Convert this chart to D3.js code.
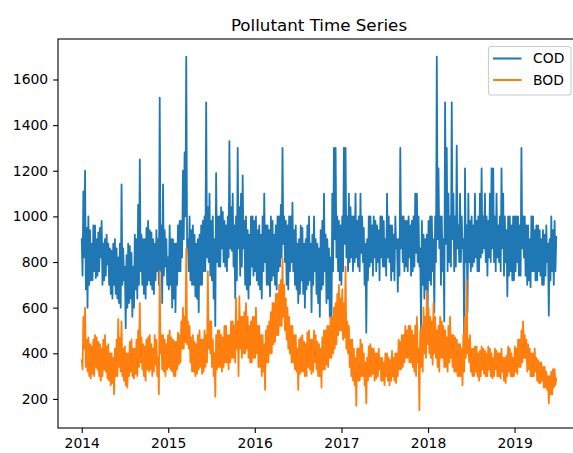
<!DOCTYPE html>
<html>
<head>
<meta charset="utf-8">
<script src="https://cdn.jsdelivr.net/npm/d3@7/dist/d3.min.js"></script>
<style>
  html, body { margin: 0; padding: 0; background: #fff; }
  svg { display: block; font-family: "DejaVu Sans", sans-serif; }
</style>
</head>
<body>
<svg id="chart" width="573" height="453"></svg>
<script>
// Samples every 3.5 days (84 h) starting 2014-01-01
const startDate = new Date(2014, 0, 1);
const stepHours = 84;

const codValues = [
  // 2014
  900, 740, 1110, 820, 1200, 680, 950, 600, 1000, 700, 940, 720, 880, 720, 960, 760,
  960, 730, 900, 740, 930, 760, 950, 820, 980, 700, 880, 720, 900, 740, 920, 790,
  880, 700, 860, 660, 850, 640, 880, 700, 900, 660, 860, 640, 820, 620, 880, 600,
  1140, 700, 860, 720, 780, 510, 830, 600, 880, 620, 870, 640, 840, 560, 780, 600,
  920, 680, 900, 640, 1050, 700, 1250, 760, 920, 700, 900, 660, 900, 640, 950, 700,
  980, 720, 940, 700, 930, 680, 900, 660, 880, 720, 940, 760, 900, 700, 1520, 760,
  960, 620, 1140, 740, 940, 780, 900, 700,
  // 2015
  820, 680, 960, 700, 900, 600, 900, 640, 880, 580, 880, 700, 960, 760, 980, 760,
  980, 820, 1200, 900, 1280, 1000, 1700, 860, 900, 760, 1000, 720, 940, 700, 960, 700,
  920, 650, 880, 640, 900, 580, 920, 700, 960, 700, 980, 760, 1000, 760, 1500, 820,
  1040, 800, 1100, 740, 980, 720, 1000, 640, 900, 520, 1190, 800, 1000, 780, 1000, 780,
  1040, 860, 1020, 800, 980, 780, 960, 760, 1000, 820, 1330, 860, 1040, 850, 1100, 780,
  960, 640, 1000, 720, 1300, 860, 1040, 740, 1100, 780, 1180, 860, 980, 700, 1000, 680,
  940, 640, 920, 700, 1000, 780, 1000, 740,
  // 2016
  980, 760, 1000, 720, 940, 700, 960, 680, 920, 640, 1000, 760, 1100, 800, 960, 700,
  960, 700, 940, 650, 1000, 720, 980, 740, 920, 700, 960, 680, 1000, 760, 1000, 780,
  1050, 820, 1300, 880, 1000, 800, 980, 700, 960, 680, 1000, 760, 1000, 800, 1060, 760,
  940, 700, 960, 680, 880, 620, 900, 660, 960, 720, 950, 660, 880, 600, 900, 680,
  960, 700, 1000, 720, 880, 580, 920, 700, 1000, 760, 900, 660, 880, 620, 860, 560,
  940, 680, 980, 700, 1100, 760, 920, 620, 900, 640, 860, 560, 820, 480, 1100, 760,
  1300, 900, 1300, 820, 1000, 760, 980, 720,
  // 2017
  960, 700, 1000, 760, 1300, 880, 1300, 820, 1000, 760, 1100, 800, 1040, 820, 1000, 760,
  1000, 800, 1100, 820, 980, 780, 1000, 760, 1100, 840, 1000, 800, 950, 700, 880, 490,
  900, 720, 1000, 780, 1000, 800, 960, 740, 1000, 820, 980, 760, 960, 800, 940, 720,
  1000, 820, 1000, 780, 980, 780, 900, 740, 1100, 820, 1000, 800, 960, 720, 960, 760,
  920, 720, 1000, 860, 900, 670, 900, 740, 1300, 860, 1000, 800, 1000, 760, 980, 780,
  980, 760, 1000, 820, 960, 740, 980, 760, 1000, 780, 1100, 840, 1100, 800, 1000, 780,
  860, 490, 980, 700, 920, 640, 900, 680,
  // 2018
  920, 600, 980, 720, 1000, 700, 1000, 760, 900, 580, 1000, 800, 1700, 900, 1210, 860,
  1000, 700, 1000, 760, 900, 540, 1500, 880, 1300, 760, 1100, 800, 1000, 780, 1500, 900,
  1100, 760, 1000, 780, 1310, 860, 960, 800, 1100, 800, 1000, 860, 900, 470, 1210, 800,
  960, 580, 1100, 800, 980, 760, 1000, 780, 960, 800, 1100, 820, 980, 760, 1000, 760,
  1100, 820, 1210, 840, 1000, 860, 1100, 800, 1000, 740, 980, 820, 1100, 800, 1210, 860,
  1210, 800, 1000, 760, 1100, 820, 960, 800, 1000, 760, 1210, 860, 1100, 740, 1000, 800,
  940, 650, 1000, 740, 1000, 760, 960, 720,
  // 2019
  1000, 720, 1000, 760, 1000, 800, 1000, 740, 960, 740, 1300, 860, 1000, 820, 1000, 740,
  960, 700, 960, 720, 900, 690, 1000, 760, 1000, 760, 940, 720, 960, 720, 960, 760,
  940, 740, 900, 700, 940, 700, 920, 740, 960, 800, 880, 565, 900, 720, 1000, 760,
  940, 700, 980, 760, 910
];

const bodValues = [
  // 2014
  370, 330, 560, 420, 600, 340, 460, 320, 470, 300, 440, 290, 430, 310, 460, 300,
  480, 340, 470, 330, 450, 300, 440, 280, 420, 300, 460, 330, 480, 320, 430, 290,
  440, 280, 400, 260, 400, 270, 380, 220, 420, 300, 460, 300, 550, 340, 470, 320,
  540, 300, 420, 280, 430, 260, 400, 250, 400, 300, 450, 320, 460, 300, 420, 290,
  420, 310, 460, 300, 500, 340, 620, 360, 470, 330, 440, 300, 430, 280, 460, 330,
  470, 320, 480, 330, 440, 300, 420, 320, 480, 350, 460, 300, 380, 220, 760, 400,
  480, 330, 480, 320, 460, 300, 440, 330,
  // 2015
  480, 340, 500, 330, 470, 320, 460, 300, 450, 300, 450, 330, 490, 350, 480, 360,
  540, 420, 600, 420, 560, 450, 860, 440, 540, 420, 520, 360, 470, 320, 480, 320,
  450, 300, 440, 310, 480, 330, 500, 340, 460, 310, 460, 320, 500, 340, 480, 360,
  760, 420, 540, 400, 540, 340, 460, 300, 400, 210, 480, 330, 500, 340, 500, 340,
  480, 320, 470, 340, 520, 360, 520, 360, 480, 330, 480, 360, 540, 380, 540, 380,
  520, 360, 640, 420, 540, 300, 650, 420, 560, 380, 560, 400, 580, 400, 620, 420,
  560, 380, 520, 360, 540, 360, 560, 380,
  // 2016
  560, 380, 600, 400, 520, 340, 520, 340, 480, 300, 480, 320, 440, 240, 500, 360,
  520, 360, 540, 400, 580, 400, 620, 440, 620, 450, 660, 480, 660, 480, 700, 520,
  720, 520, 815, 560, 700, 500, 640, 460, 600, 420, 560, 400, 520, 360, 520, 360,
  480, 330, 480, 320, 420, 240, 460, 310, 470, 320, 480, 320, 450, 300, 440, 300,
  490, 340, 500, 330, 460, 310, 460, 320, 500, 360, 480, 330, 450, 300, 440, 300,
  420, 250, 470, 330, 500, 330, 500, 350, 520, 340, 520, 380, 560, 380, 560, 400,
  600, 420, 620, 440, 660, 480, 700, 500,
  // 2017
  640, 500, 680, 460, 620, 470, 780, 420, 540, 400, 520, 340, 460, 300, 460, 280,
  420, 260, 380, 170, 420, 280, 420, 280, 460, 300, 440, 300, 400, 260, 360, 180,
  380, 280, 430, 300, 440, 300, 420, 310, 420, 280, 400, 290, 400, 300, 420, 330,
  380, 280, 380, 280, 360, 260, 400, 300, 400, 280, 380, 260, 370, 280, 410, 300,
  380, 280, 400, 270, 400, 300, 460, 330, 450, 330, 480, 340, 480, 360, 520, 380,
  500, 380, 520, 360, 520, 360, 500, 340, 480, 320, 520, 300, 560, 360, 420, 150,
  500, 340, 520, 320, 600, 400, 560, 380,
  // 2018
  670, 440, 600, 400, 560, 380, 540, 350, 620, 400, 560, 380, 500, 340, 520, 320,
  560, 380, 540, 380, 520, 340, 500, 340, 470, 320, 520, 360, 560, 380, 480, 340,
  480, 320, 470, 320, 460, 300, 440, 300, 440, 300, 420, 260, 480, 320, 560, 380,
  720, 400, 460, 360, 480, 320, 420, 300, 420, 300, 430, 320, 430, 300, 400, 280,
  410, 300, 430, 330, 420, 310, 410, 300, 400, 300, 430, 330, 420, 300, 400, 290,
  380, 300, 420, 330, 410, 300, 400, 300, 400, 290, 420, 320, 380, 280, 380, 270,
  390, 300, 430, 320, 420, 300, 400, 300,
  // 2019
  380, 300, 430, 320, 420, 310, 460, 340, 460, 340, 500, 360, 540, 380, 480, 380,
  460, 320, 440, 330, 420, 300, 400, 300, 400, 300, 420, 320, 380, 280, 370, 270,
  360, 270, 360, 280, 340, 250, 340, 250, 320, 240, 300, 180, 300, 220, 320, 220,
  330, 250, 330, 260, 290
];

const seriesNames = ["COD", "BOD"];
const seriesColors = ["#1f77b4", "#ff7f0e"];
const yTickValues = [200, 400, 600, 800, 1000, 1200, 1400, 1600];
const chartTitle = "Pollutant Time Series";

const nPoints = Math.min(codValues.length, bodValues.length);
const dates = d3.range(nPoints).map(i => d3.timeHour.offset(startDate, i * stepHours));

const svg = d3.select("#chart");
const box = { left: 58, right: 580, top: 39, bottom: 428 };

// Axis limits padded by 5% of the data range on each side
const tExtent = d3.extent(dates);
const tPad = (tExtent[1] - tExtent[0]) * 0.05;
const x = d3.scaleTime()
  .domain([new Date(+tExtent[0] - tPad), new Date(+tExtent[1] + tPad)])
  .range([box.left, box.right]);

const allVals = codValues.concat(bodValues);
const vMin = d3.min(allVals), vMax = d3.max(allVals);
const vPad = (vMax - vMin) * 0.05;
const y = d3.scaleLinear()
  .domain([vMin - vPad, vMax + vPad])
  .range([box.bottom, box.top]);

// Lines
const line = d3.line()
  .x((d, i) => x(dates[i]))
  .y(d => y(d));

svg.append("defs").append("clipPath").attr("id", "plotClip")
  .append("rect").attr("x", box.left).attr("y", box.top)
  .attr("width", box.right - box.left).attr("height", box.bottom - box.top);

const plot = svg.append("g").attr("clip-path", "url(#plotClip)");
[codValues, bodValues].forEach((vals, k) => {
  plot.append("path")
    .datum(vals.slice(0, nPoints))
    .attr("fill", "none")
    .attr("stroke", seriesColors[k])
    .attr("stroke-width", 1.8)
    .attr("stroke-linejoin", "round")
    .attr("stroke-linecap", "square")
    .attr("d", line);
});

// Axes
const tickLen = 4.9, tickPad = 4.9;
const xAxis = d3.axisBottom(x)
  .ticks(d3.timeYear.every(1))
  .tickFormat(d3.timeFormat("%Y"))
  .tickSizeInner(tickLen).tickSizeOuter(0).tickPadding(tickPad);
const gx = svg.append("g").attr("transform", `translate(0,${box.bottom})`).call(xAxis);

const yAxis = d3.axisLeft(y)
  .tickValues(yTickValues)
  .tickFormat(d3.format("d"))
  .tickSizeInner(tickLen).tickSizeOuter(0).tickPadding(tickPad);
const gy = svg.append("g").attr("transform", `translate(${box.left},0)`).call(yAxis);

[gx, gy].forEach(g => {
  g.select(".domain").remove();
  g.selectAll(".tick line").attr("stroke", "#000").attr("stroke-width", 1.1);
  g.selectAll(".tick text").attr("fill", "#000")
    .style("font-size", "13.9px").style("font-family", "'DejaVu Sans', sans-serif");
});

// Spines
svg.append("rect")
  .attr("x", box.left).attr("y", box.top)
  .attr("width", box.right - box.left).attr("height", box.bottom - box.top)
  .attr("fill", "none").attr("stroke", "#000").attr("stroke-width", 1.1);

// Title
svg.append("text")
  .attr("x", (box.left + box.right) / 2).attr("y", box.top - 8.3)
  .attr("text-anchor", "middle")
  .style("font-size", "16.7px")
  .attr("fill", "#000")
  .text(chartTitle);

// Legend
const lg = svg.append("g");
lg.append("rect")
  .attr("x", 488.5).attr("y", 46.5)
  .attr("width", 82.5).attr("height", 48.5)
  .attr("rx", 2.8).attr("ry", 2.8)
  .attr("fill", "#fff").attr("fill-opacity", 0.8)
  .attr("stroke", "#cccccc").attr("stroke-width", 1.1);
seriesNames.forEach((name, k) => {
  const cy = 58.5 + k * 21.5;
  lg.append("line")
    .attr("x1", 493).attr("x2", 521.5)
    .attr("y1", cy).attr("y2", cy)
    .attr("stroke", seriesColors[k]).attr("stroke-width", 2);
  lg.append("text")
    .attr("x", 533).attr("y", cy)
    .attr("dy", "0.35em")
    .style("font-size", "13.9px")
    .attr("fill", "#000")
    .text(name);
});
</script>
</body>
</html>
